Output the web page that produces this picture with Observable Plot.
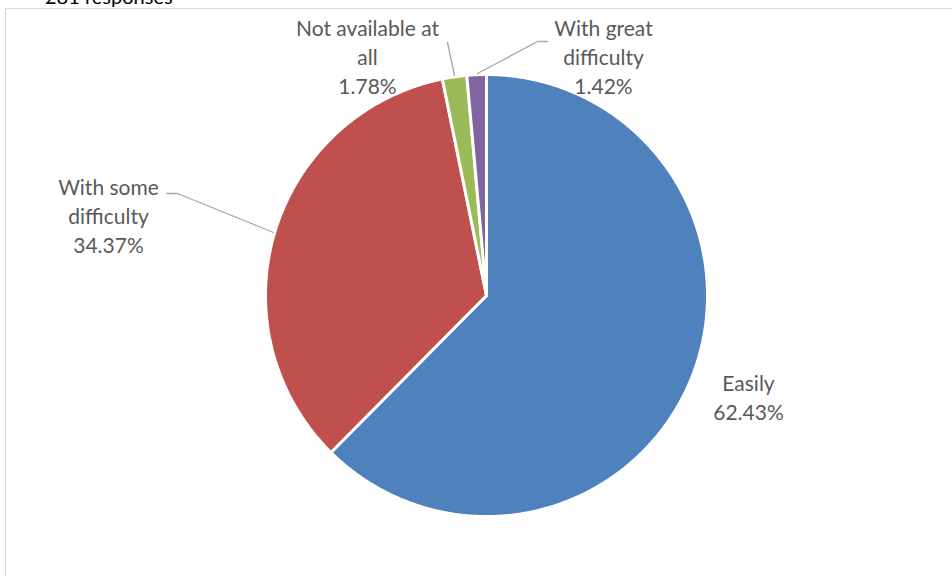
<!DOCTYPE html>
<html><head><meta charset="utf-8">
<script src="https://cdn.jsdelivr.net/npm/d3@7"></script>
<script src="https://cdn.jsdelivr.net/npm/@observablehq/plot@0.6"></script>
<style>
html,body{margin:0;padding:0;background:#fff;overflow:hidden;width:952px;height:576px;}
#wrap{position:relative;width:952px;height:576px;overflow:hidden;}
#frame{position:absolute;left:5px;top:8px;width:1000px;height:700px;border:1.5px solid #D9D9D9;box-sizing:border-box;}
#sub{position:absolute;left:45px;top:-14px;font:20px Lato, sans-serif;line-height:20px;color:#000;white-space:nowrap;}
#chart{position:absolute;left:0;top:0;}
</style></head><body>
<div id="wrap"><div id="frame"></div><div id="sub">281 responses</div><div id="chart"></div></div>
<script>
// ---- data ----
const categories = ["Easily", "With some difficulty", "Not available at all", "With great difficulty"];
const values = [62.43, 34.37, 1.78, 1.42];
const labelNames = ["Easily", "With some\ndifficulty", "Not available at\nall", "With great\ndifficulty"];
const colors = ["#4F81BD", "#C0504D", "#9BBB59", "#8064A2"];

// ---- layout ----
const cx = 486, cy = 295, R = 221;
const labelPos = [[748, 396], [108, 214], [367, 55], [603, 55]];
const leaders = [
  null,
  [[166, 193], [177, 193], [273, 232]],
  [[447, 42], [454, 75]],
  [[547, 41], [537, 41], [477, 73]]
];

// ---- slice geometry from values ----
const total = d3.sum(values);
let acc = 0;
const slices = values.map((v, i) => {
  const a0 = acc / total * 2 * Math.PI;
  acc += v;
  const a1 = acc / total * 2 * Math.PI;
  const n = Math.max(2, Math.ceil((a1 - a0) / (Math.PI / 360)));
  const pts = [{x: cx, y: cy}];
  for (let k = 0; k <= n; k++) {
    const a = a0 + (a1 - a0) * k / n;
    pts.push({x: cx + R * Math.sin(a), y: cy - R * Math.cos(a)});
  }
  pts.push({x: cx, y: cy});
  return {i, pts};
});

const labels = categories.map((c, i) => ({
  x: labelPos[i][0], y: labelPos[i][1],
  text: labelNames[i] + "\n" + values[i].toFixed(2) + "%"
}));

const leaderData = leaders.flatMap((l, i) => l ? l.map(([x, y]) => ({x, y, k: i})) : []);

const chart = Plot.plot({
  width: 952, height: 576, margin: 0,
  x: {domain: [0, 952], range: [0, 952], axis: null},
  y: {domain: [0, 576], range: [0, 576], axis: null},
  style: {background: "transparent"},
  marks: [
    ...slices.map(s => Plot.line(s.pts, {x: "x", y: "y", fill: colors[s.i], stroke: "white", strokeWidth: 3, strokeLinejoin: "miter"})),
    Plot.line(leaderData, {x: "x", y: "y", z: "k", stroke: "#A6A6A6", strokeWidth: 1.3}),
    Plot.text(labels, {x: "x", y: "y", text: "text", fontSize: 21, lineHeight: 1.38, fill: "#595959", fontFamily: "Lato, sans-serif", textAnchor: "middle"})
  ]
});
document.getElementById("chart").appendChild(chart);
</script>
</body></html>
